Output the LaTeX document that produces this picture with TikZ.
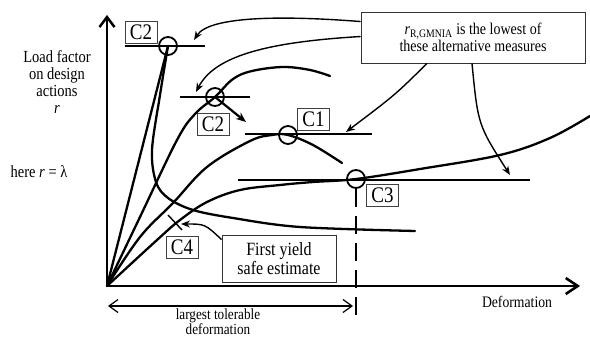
\documentclass[tikz,border=0pt]{standalone}
\usepackage{fontspec}
\setmainfont{Liberation Serif}
\usetikzlibrary{arrows.meta}
\newcommand{\tallt}[1]{\scalebox{1}[1.17]{#1}}
\tikzset{
  curve/.style={line width=2.3pt, line join=round, line cap=round},
  refline/.style={line width=1.2pt},
  axisline/.style={line width=2.5pt},
  note/.style={line width=1.4pt, -{Stealth[length=9pt,width=7pt]}},
  bigarrow/.style={line width=2.2pt, -{Stealth[length=10pt,width=8pt]}},
  ring/.style={circle, draw, line width=1.8pt, minimum size=18pt, inner sep=0pt},
  lbl/.style={draw=black!75, line width=0.8pt, inner sep=0pt, minimum width=32pt, minimum height=22pt, font=\fontsize{19}{20}\selectfont},
  txt/.style={align=center, inner sep=0pt},
  dimline/.style={line width=1.2pt, {Straight Barb[length=9pt,width=13pt]}-{Straight Barb[length=9pt,width=13pt]}},
  dashline/.style={line width=2.6pt, dash pattern=on 18pt off 9pt}
}
\begin{document}
\begin{tikzpicture}[x=1pt,y=-1pt]
\useasboundingbox[fill=white] (0,0) rectangle (590,337);

% axes
\coordinate (O) at (107,286);
\coordinate (ytip) at (107,15);
\coordinate (xtip) at (580,286);
\draw[axisline, -{Straight Barb[length=10pt,width=15pt]}] (O) -- (ytip);
\draw[axisline, -{Straight Barb[length=12pt,width=16pt]}] (O) -- (xtip);

% circles
\node[ring] (k2a) at (168,46) {};
\node[ring] (k2b) at (215,97) {};
\node[ring] (k1) at (288,135) {};
\node[ring] (k3) at (356,179) {};

% reference lines
\draw[refline] (125,46) -- (205,46);
\draw[refline] (180,97) -- (250,97);
\draw[refline] (245,134) -- (372,134);
\draw[refline] (238,180) -- (530,180);

% curves
\draw[curve] (O) -- (k2a.center);
\draw[curve] plot[smooth, tension=0.55] coordinates {(k2a.center) (160,95) (152,150) (156,182) (168,198) (193,210) (233,218) (300,227) (415,231)};
\draw[curve] plot[smooth, tension=0.6] coordinates {(O) (140,217) (177,140) (195,114) (k2b.center) (233,79) (252,71) (283,67) (310,70) (330,76)};
\draw[curve] plot[smooth, tension=0.6] coordinates {(O) (140,237) (173,203) (207,167) (250,141) (272,135) (k1.center) (313,145) (342,163)};
\draw[curve] plot[smooth, tension=0.6] coordinates {(O) (157,240) (180,220) (207,202) (240,190) (280,185) (313,182) (k3.center) (420,169) (500,155) (550,138) (590,116)};

% post-buckling arrow
\coordinate (pb) at (246,122);
\draw[bigarrow] (k2b.center) -- (pb);

% first yield tick
\coordinate (t1) at (168,215);
\coordinate (t2) at (182,230);
\draw[line width=1.4pt] (t1) -- (t2);

% dashed limit line
\coordinate (dl) at (356,315);
\draw[dashline] (k3.south) -- (dl);

% labels
\node[lbl] (l2a) at (141,32) {\tallt{C2}};
\node[lbl] (l2b) at (213,124.5) {\tallt{C2}};
\node[lbl] (l1) at (313.5,119) {\tallt{C1}};
\node[lbl] (l3) at (382.5,195) {\tallt{C3}};
\node[lbl] (l4) at (182,247.5) {\tallt{C4}};

% boxes
\node[draw=black!80, line width=0.9pt, minimum width=224pt, minimum height=51pt, txt, font=\fontsize{14}{16.5}\selectfont] (bb) at (473,37.5)
  {\tallt{\textit{r}\textsubscript{R,GMNIA} is the lowest of}\\\tallt{these alternative measures}};
\node[draw=black!80, line width=0.9pt, minimum width=114pt, minimum height=47pt, txt, font=\fontsize{16}{17}\selectfont] (fy) at (279,258.5)
  {\tallt{First yield}\\\tallt{safe estimate}};

% annotation arrows
\coordinate (ea) at (194,40);
\coordinate (eb) at (196,92);
\coordinate (ec) at (346,132);
\coordinate (ed) at (510,175);
\coordinate (ef) at (181,224);
\draw[note] (bb.north west) ++(0,10) .. controls (290,16) and (210,15) .. (ea);
\draw[note] (bb.west) ++(0,-1) .. controls (270,42) and (215,55) .. (eb);
\draw[note] (bb.south) ++(-46,0) .. controls (395,95) .. (ec);
\draw[note] (bb.south) ++(-1,0) .. controls (478,125) .. (ed);
\draw[note] (fy.north west) ++(0,5) .. controls (205,224) .. (ef);

% dimension arrow
\coordinate (d1) at (108,306);
\coordinate (d2) at (353,306);
\draw[dimline] (d1) -- (d2);

% texts
\node[txt, font=\fontsize{14.5}{16.8}\selectfont] (ylab) at (57,82) {\tallt{Load factor}\\\tallt{on design}\\\tallt{actions}\\\tallt{\textit{r}}};
\node[txt, font=\fontsize{14.5}{16.7}\selectfont] (here) at (39,172) {\tallt{here \textit{r} = λ}};
\node[txt, font=\fontsize{13.7}{15}\selectfont] (xlab) at (517,302) {\tallt{Deformation}};
\node[txt, font=\fontsize{13.2}{15}\selectfont] (dlab) at (218,321.5) {\tallt{largest tolerable}\\\tallt{deformation}};
\end{tikzpicture}
\end{document}
